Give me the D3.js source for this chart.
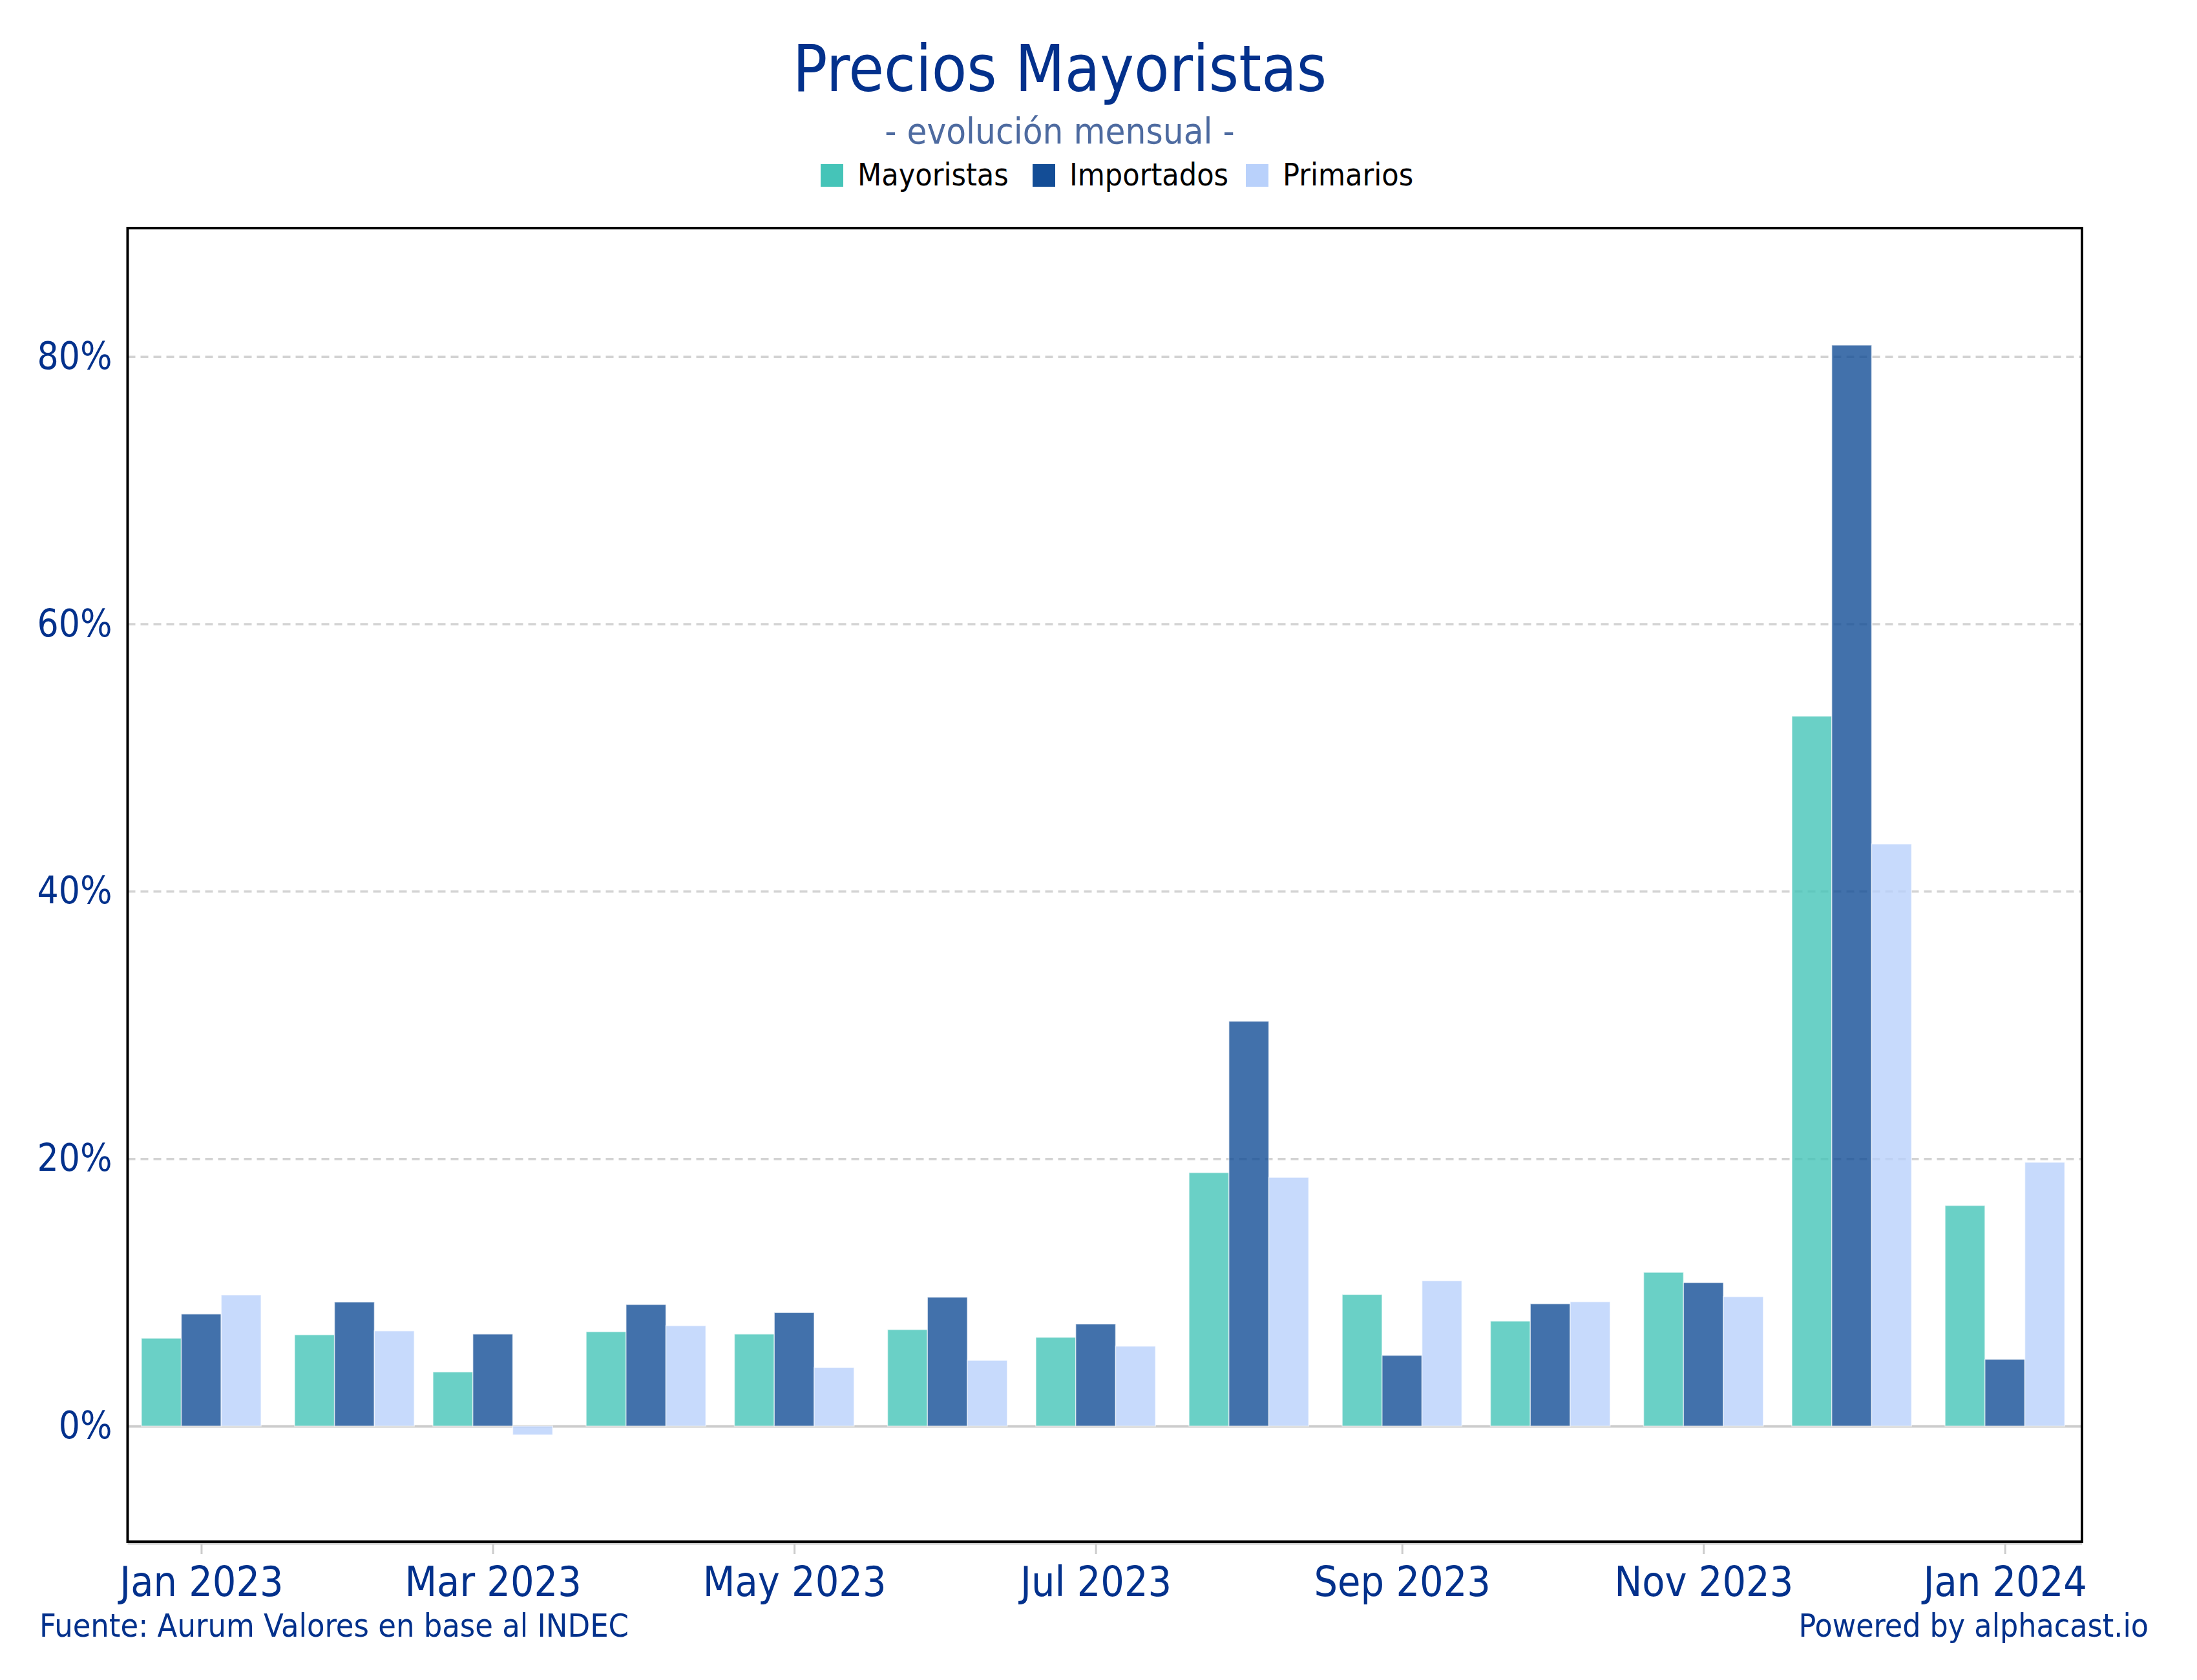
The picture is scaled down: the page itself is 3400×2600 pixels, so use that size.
<!DOCTYPE html>
<html>
<head>
<meta charset="utf-8">
<script src="https://cdn.jsdelivr.net/npm/d3@7"></script>
<style>
  body { margin: 0; background: #fff; }
  svg text { font-family: "DejaVu Sans Condensed", "DejaVu Sans", sans-serif; }
</style>
</head>
<body>
<svg id="chart" width="3400" height="2600"></svg>
<script>
// data (monthly % change)
var months = ['2023-01', '2023-02', '2023-03', '2023-04', '2023-05', '2023-06', '2023-07',
    '2023-08', '2023-09', '2023-10', '2023-11', '2023-12', '2024-01'];
var mayoristas = [6.57, 6.83, 4.05, 7.06, 6.88, 7.22, 6.64, 18.96, 9.84, 7.85, 11.5, 53.1, 16.5];
var importados = [8.38, 9.28, 6.88, 9.09, 8.49, 9.64, 7.64, 30.28, 5.29, 9.15, 10.73, 80.85, 4.99];
var primarios = [9.81, 7.12, -0.66, 7.51, 4.38, 4.92, 5.98, 18.6, 10.87, 9.3, 9.68, 43.54, 19.73];
var seriesNames = ['Mayoristas', 'Importados', 'Primarios'];
var yTicks = [0, 20, 40, 60, 80];
var xTickMonths = ['2023-01', '2023-03', '2023-05', '2023-07', '2023-09', '2023-11', '2024-01'];

var colors = ['#45c4b8', '#134d96', '#b9d1fb'];
var textBlue = '#03318c';

var parse = d3.utcParse('%Y-%m');
var dates = months.map(parse);
var series = [mayoristas, importados, primarios];
var DAY = 864e5;

//plot frame
var m = { left: 197.5, right: 3222, top: 353, bottom: 2386 };

var svg = d3.select('#chart');

var x = d3.scaleUtc()
    .domain([new Date(+dates[0] - 14.9 * DAY), new Date(+dates[dates.length - 1] + 15.6 * DAY)])
    .range([m.left, m.right]);
var y = d3.scaleLinear()
    .domain([-8.65, 89.6])
    .range([m.bottom, m.top]);

//group width from the tightest month gap
var minGap = d3.min(d3.pairs(dates), function (p) { return x(p[1]) - x(p[0]); });
var groupW = minGap * 0.865;
var barW = groupW / 3;

// gridlines
var grid = svg.append('g')
    .attr('transform', 'translate(' + m.left + ',0)')
    .call(d3.axisLeft(y).tickValues(yTicks).tickSize(-(m.right - m.left)).tickFormat(''));
grid.select('.domain').remove();
grid.selectAll('.tick line')
    .attr('stroke', function (d) { return d === 0 ? '#cccccc' : '#d3d3d3'; })
    .attr('stroke-width', function (d) { return d === 0 ? 4 : 3.5; })
    .attr('stroke-dasharray', function (d) { return d === 0 ? null : '12,8'; });

// bars
var bars = svg.append('g');
series.forEach(function (vals, s) {
    bars.selectAll('.bar-' + s)
        .data(vals)
        .enter().append('rect')
        .attr('class', 'bar-' + s)
        .attr('x', function (d, i) { return x(dates[i]) - groupW / 2 + s * barW; })
        .attr('width', barW)
        .attr('y', function (d) { return y(Math.max(0, d)); })
        .attr('height', function (d) { return Math.abs(y(d) - y(0)); })
        .attr('fill', colors[s])
        .attr('fill-opacity', 0.8)
        .attr('stroke', '#ffffff')
        .attr('stroke-opacity', 0.6)
        .attr('stroke-width', 1.5);
});

// y labels
var yAxis = svg.append('g')
    .attr('transform', 'translate(' + m.left + ',0)')
    .call(d3.axisLeft(y).tickValues(yTicks).tickSize(0).tickPadding(24)
        .tickFormat(function (d) { return d + '%'; }));
yAxis.select('.domain').remove();
yAxis.selectAll('text')
    .attr('fill', textBlue)
    .style('font-size', '58px');

// x axis
var xAxis = svg.append('g')
    .attr('transform', 'translate(0,' + (m.bottom + 3) + ')')
    .call(d3.axisBottom(x).tickValues(xTickMonths.map(parse)).tickSize(16).tickPadding(20)
        .tickFormat(d3.utcFormat('%b %Y')));
xAxis.select('.domain').attr('stroke', '#cccccc').attr('stroke-width', 3)
    .attr('d', 'M' + m.left + ',0H' + m.right);
xAxis.selectAll('.tick line').attr('stroke', '#cccccc').attr('stroke-width', 3);
xAxis.selectAll('text')
    .attr('fill', textBlue)
    .style('font-size', '64px');

// frame
svg.append('rect')
    .attr('x', m.left).attr('y', m.top)
    .attr('width', m.right - m.left).attr('height', m.bottom - m.top)
    .attr('fill', 'none').attr('stroke', '#000').attr('stroke-width', 4);

// titles
svg.append('text')
    .attr('x', 1640).attr('y', 141)
    .attr('text-anchor', 'middle')
    .attr('fill', textBlue)
    .style('font-size', '99px')
    .text('Precios Mayoristas');
svg.append('text')
    .attr('x', 1640).attr('y', 222)
    .attr('text-anchor', 'middle')
    .attr('fill', '#4e6ba0')
    .style('font-size', '56px')
    .text('- evolución mensual -');

// legend
var legendX = [1270, 1598, 1928];
var legend = svg.append('g');
seriesNames.forEach(function (name, i) {
    legend.append('rect')
        .attr('x', legendX[i]).attr('y', 254)
        .attr('width', 35).attr('height', 35)
        .attr('fill', colors[i]);
    legend.append('text')
        .attr('x', legendX[i] + 57).attr('y', 287)
        .attr('fill', '#000')
        .style('font-size', '48px')
        .text(name);
});

// footer
svg.append('text')
    .attr('x', 61).attr('y', 2533)
    .attr('fill', textBlue)
    .style('font-size', '50px')
    .text('Fuente: Aurum Valores en base al INDEC');
svg.append('text')
    .attr('x', 3325).attr('y', 2533)
    .attr('text-anchor', 'end')
    .attr('fill', textBlue)
    .style('font-size', '49.5px')
    .text('Powered by alphacast.io');
</script>
</body>
</html>
